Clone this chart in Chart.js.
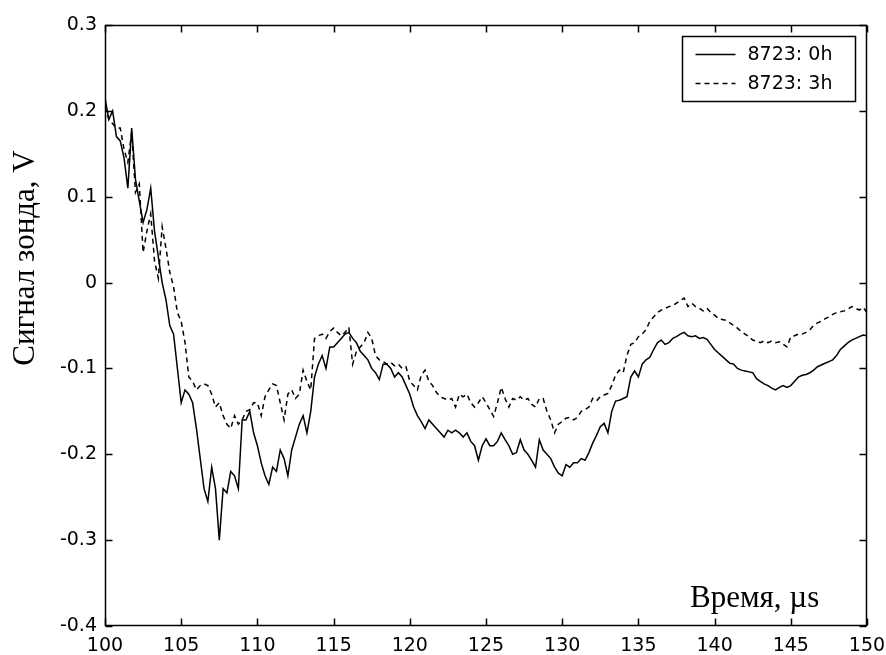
<!DOCTYPE html>
<html>
<head>
<meta charset="utf-8">
<script src="https://cdn.jsdelivr.net/npm/chart.js@4"></script>
<style>
  html, body { margin: 0; padding: 0; background: #fff; }
</style>
</head>
<body>
<canvas id="probeChart" width="886" height="655"></canvas>
<script>
// sampling grid, microseconds (100 .. 150 every 0.25)
const tStart = 100, tStep = 0.25;

// probe signal, V — sample 8723 right after treatment
const signal0h = [
  0.215, 0.19, 0.20, 0.17,
  0.165, 0.145, 0.11, 0.18,
  0.12, 0.095, 0.07, 0.085,
  0.11, 0.06, 0.03, 0.0,
  -0.02, -0.05, -0.06, -0.10,
  -0.14, -0.125, -0.13, -0.14,
  -0.17, -0.205, -0.24, -0.255,
  -0.215, -0.24, -0.30, -0.24,
  -0.245, -0.22, -0.225, -0.24,
  -0.16, -0.16, -0.15, -0.175,
  -0.19, -0.21, -0.225, -0.235,
  -0.215, -0.22, -0.195, -0.205,
  -0.225, -0.195, -0.18, -0.165,
  -0.155, -0.175, -0.15, -0.11,
  -0.095, -0.085, -0.1, -0.075,
  -0.075, -0.07, -0.065, -0.06,
  -0.058, -0.065, -0.07, -0.08,
  -0.085, -0.09, -0.1, -0.105,
  -0.113, -0.095, -0.095, -0.1,
  -0.11, -0.105, -0.11, -0.12,
  -0.13, -0.145, -0.155, -0.162,
  -0.17, -0.16, -0.165, -0.17,
  -0.175, -0.18, -0.172, -0.175,
  -0.172, -0.175, -0.18, -0.175,
  -0.185, -0.19, -0.207, -0.19,
  -0.182, -0.19, -0.19, -0.185,
  -0.175, -0.183, -0.19, -0.2,
  -0.198, -0.183, -0.195, -0.2,
  -0.207, -0.215, -0.183, -0.195,
  -0.2, -0.205, -0.215, -0.222,
  -0.225, -0.212, -0.215, -0.21,
  -0.21, -0.205, -0.207, -0.198,
  -0.187, -0.178, -0.168, -0.164,
  -0.175, -0.15, -0.138, -0.137,
  -0.135, -0.133, -0.11, -0.103,
  -0.11, -0.095, -0.09, -0.087,
  -0.078, -0.07, -0.067, -0.072,
  -0.07, -0.065, -0.063, -0.06,
  -0.058, -0.062, -0.063, -0.062,
  -0.065, -0.064, -0.066, -0.072,
  -0.078, -0.082, -0.086, -0.09,
  -0.094, -0.095, -0.1, -0.102,
  -0.103, -0.104, -0.105, -0.112,
  -0.115, -0.118, -0.12, -0.123,
  -0.125, -0.122, -0.12, -0.122,
  -0.12, -0.115, -0.11, -0.108,
  -0.107, -0.105, -0.102, -0.098,
  -0.096, -0.094, -0.092, -0.09,
  -0.085, -0.078, -0.074, -0.07,
  -0.067, -0.065, -0.063, -0.061,
  -0.062
];

// same sample after 3 hours
const signal3h = [
  0.205, 0.19, 0.185, 0.18,
  0.18, 0.155, 0.14, 0.175,
  0.105, 0.115, 0.035, 0.06,
  0.08, 0.025, 0.005, 0.065,
  0.04, 0.012, -0.005, -0.035,
  -0.045, -0.07, -0.11, -0.115,
  -0.125, -0.12, -0.118, -0.12,
  -0.13, -0.145, -0.14, -0.155,
  -0.165, -0.17, -0.155, -0.165,
  -0.16, -0.15, -0.148, -0.14,
  -0.14, -0.155, -0.133, -0.125,
  -0.118, -0.12, -0.14, -0.16,
  -0.13, -0.125, -0.135, -0.13,
  -0.102, -0.115, -0.125, -0.065,
  -0.062, -0.06, -0.065, -0.057,
  -0.053, -0.058, -0.062, -0.058,
  -0.052, -0.095, -0.08, -0.075,
  -0.07, -0.058, -0.065, -0.085,
  -0.09, -0.092, -0.095, -0.093,
  -0.097, -0.095, -0.1, -0.098,
  -0.115, -0.12, -0.125, -0.108,
  -0.102, -0.115, -0.12, -0.128,
  -0.133, -0.135, -0.137, -0.135,
  -0.145, -0.13, -0.133, -0.13,
  -0.14, -0.145, -0.14, -0.133,
  -0.14, -0.148, -0.156, -0.14,
  -0.122, -0.135, -0.145, -0.135,
  -0.137, -0.133, -0.137, -0.135,
  -0.142, -0.145, -0.135, -0.135,
  -0.15, -0.16, -0.175, -0.165,
  -0.162, -0.158, -0.157, -0.16,
  -0.157, -0.15, -0.148, -0.145,
  -0.135, -0.138, -0.133, -0.131,
  -0.129, -0.12, -0.108, -0.102,
  -0.105, -0.085, -0.072, -0.07,
  -0.063, -0.06, -0.055, -0.045,
  -0.04, -0.035, -0.032, -0.03,
  -0.028, -0.027, -0.024, -0.021,
  -0.018, -0.028, -0.024, -0.028,
  -0.03, -0.033, -0.03, -0.035,
  -0.038, -0.042, -0.043, -0.044,
  -0.047, -0.05, -0.053, -0.057,
  -0.06, -0.063, -0.067, -0.068,
  -0.07, -0.068, -0.07, -0.068,
  -0.07, -0.069, -0.072, -0.075,
  -0.063, -0.062, -0.06, -0.06,
  -0.058, -0.055, -0.05, -0.047,
  -0.045, -0.042, -0.04, -0.037,
  -0.035, -0.034, -0.033, -0.031,
  -0.028, -0.03, -0.032, -0.029,
  -0.035
];

const seriesNames = ['8723: 0h', '8723: 3h'];
const xTitle = 'Время, µs';
const yTitle = 'Сигнал зонда, V';

const toPoints = vals => vals.map((v, i) => ({x: tStart + i * tStep, y: v}));

const tickFont = {family: "'DejaVu Sans', Verdana, sans-serif", size: 19};
const titleFont = "31px 'Liberation Serif', 'Times New Roman', serif";

// box around the axes, inward ticks, titles and the legend
const matlabFrame = {
    id: 'matlabFrame',
    afterDraw(chart) {
        const ctx = chart.ctx;
        const a = chart.chartArea;
        const xs = chart.scales.x, ys = chart.scales.y;
        const L = Math.round(a.left) + 0.5, R = Math.round(a.right) - 0.5;
        const T = Math.round(a.top) + 0.5, B = Math.round(a.bottom) - 0.5;
        const tl = 7;

        ctx.save();
        ctx.strokeStyle = '#000';
        ctx.lineWidth = 1.5;
        ctx.strokeRect(L, T, R - L, B - T);

        ctx.beginPath();
        xs.ticks.forEach(t => {
            const px = Math.round(xs.getPixelForValue(t.value)) + 0.5;
            ctx.moveTo(px, B); ctx.lineTo(px, B - tl);
            ctx.moveTo(px, T); ctx.lineTo(px, T + tl);
        });
        ys.ticks.forEach(t => {
            const py = Math.round(ys.getPixelForValue(t.value)) + 0.5;
            ctx.moveTo(L, py); ctx.lineTo(L + tl, py);
            ctx.moveTo(R, py); ctx.lineTo(R - tl, py);
        });
        ctx.stroke();

        // axis titles
        ctx.fillStyle = '#000';
        ctx.font = titleFont;
        ctx.textAlign = 'left';
        ctx.textBaseline = 'alphabetic';
        ctx.fillText(xTitle, a.right - 177, a.bottom - 19);

        ctx.save();
        ctx.translate(34, 258);
        ctx.rotate(-Math.PI / 2);
        ctx.textAlign = 'center';
        ctx.fillText(yTitle, 0, 0);
        ctx.restore();

        // legend
        const bx = Math.round(a.right - 185) + 0.5, by = Math.round(a.top + 11) + 0.5;
        const bw = 173, bh = 65;
        ctx.fillStyle = '#fff';
        ctx.fillRect(bx, by, bw, bh);
        ctx.strokeRect(bx, by, bw, bh);
        ctx.font = tickFont.size + "px " + tickFont.family;
        ctx.textBaseline = 'middle';
        chart.data.datasets.forEach((ds, i) => {
            const ry = Math.round(by + 17 + i * 29) + 0.5;
            ctx.setLineDash(ds.borderDash || []);
            ctx.lineWidth = ds.borderWidth;
            ctx.beginPath();
            ctx.moveTo(bx + 13, ry);
            ctx.lineTo(bx + 53, ry);
            ctx.stroke();
            ctx.setLineDash([]);
            ctx.fillStyle = '#000';
            ctx.textAlign = 'left';
            ctx.fillText(ds.label, bx + 65, ry + 1);
        });
        ctx.restore();
    }
};

new Chart(document.getElementById('probeChart'), {
    type: 'line',
    data: {
        datasets: [{
            label: seriesNames[0],
            data: toPoints(signal0h),
            borderColor: '#000',
            borderWidth: 1.5,
            pointRadius: 0,
            tension: 0
        }, {
            label: seriesNames[1],
            data: toPoints(signal3h),
            borderColor: '#000',
            borderWidth: 1.5,
            borderDash: [5, 4],
            pointRadius: 0,
            tension: 0
        }]
    },
    options: {
        responsive: false,
        animation: false,
        layout: {padding: {left: 0, top: 25, right: 19, bottom: 0}},
        plugins: {
            legend: {display: false},
            tooltip: {enabled: false}
        },
        scales: {
            x: {
                type: 'linear',
                min: 100,
                max: 150,
                grid: {display: false, drawTicks: false},
                border: {display: false},
                ticks: {stepSize: 5, color: '#000', font: tickFont, padding: 9, maxRotation: 0},
                afterFit: s => { s.height = 29; s.paddingLeft = 0; s.paddingRight = 0; }
            },
            y: {
                min: -0.4,
                max: 0.3,
                grid: {display: false, drawTicks: false},
                border: {display: false},
                ticks: {
                    stepSize: 0.1,
                    color: '#000',
                    font: tickFont,
                    padding: 8,
                    callback: v => String(Math.round(v * 10) / 10)
                },
                afterFit: s => { s.width = 105; s.paddingTop = 0; s.paddingBottom = 0; }
            }
        }
    },
    plugins: [matlabFrame]
});
</script>
</body>
</html>
